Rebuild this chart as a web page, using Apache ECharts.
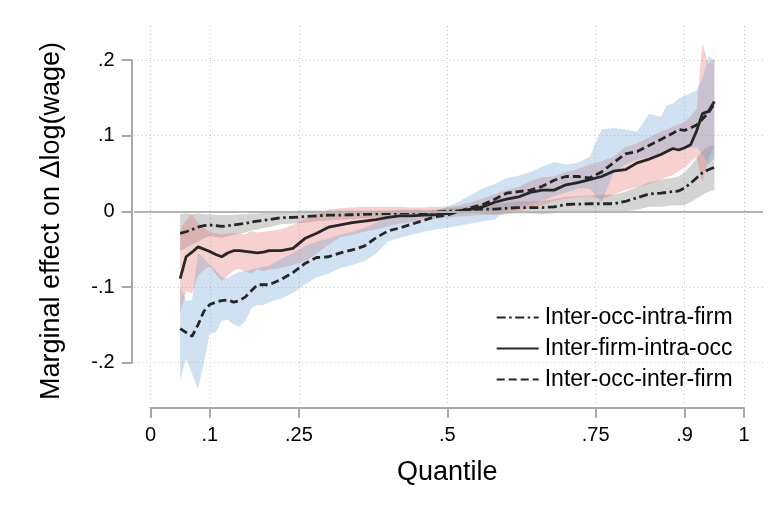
<!DOCTYPE html>
<html>
<head>
<meta charset="utf-8">
<script src="https://cdn.jsdelivr.net/npm/echarts@6/dist/echarts.min.js"></script>
<style>
  html, body { margin: 0; padding: 0; background: #fff; }
  #chart { width: 777px; height: 520px; }
</style>
</head>
<body>
<div id="chart"></div>
<script>
// ====== data ======
const quantiles = [0.05,0.06,0.07,0.08,0.09,0.10,0.11,0.12,0.13,0.14,0.15,0.16,0.17,0.18,0.19,0.20,
  0.22,0.24,0.26,0.28,0.30,0.32,0.34,0.36,0.38,0.40,0.42,0.44,0.46,0.48,0.50,0.52,0.54,0.56,0.58,
  0.60,0.62,0.64,0.66,0.68,0.70,0.72,0.74,0.76,0.78,0.80,0.82,0.84,0.86,
  0.87,0.88,0.89,0.90,0.91,0.92,0.93,0.94,0.95];

// Inter-occ-intra-firm (dash-dot, grey band)
const occIntraFirm = [-0.029,-0.027,-0.024,-0.021,-0.019,-0.018,-0.019,-0.020,-0.019,-0.018,-0.017,-0.016,-0.014,-0.013,-0.012,-0.011,
  -0.0085,-0.008,-0.007,-0.006,-0.005,-0.005,-0.0045,-0.004,-0.0035,-0.003,-0.0025,-0.002,-0.002,-0.001,0.000,0.001,0.0025,0.003,0.003,
  0.004,0.005,0.005,0.005,0.006,0.009,0.0095,0.010,0.010,0.010,0.013,0.018,0.023,0.024,
  0.025,0.026,0.027,0.031,0.037,0.044,0.051,0.055,0.058];
const occIntraFirmLo = [-0.052,-0.048,-0.044,-0.040,-0.036,-0.033,-0.034,-0.035,-0.033,-0.031,-0.030,-0.028,-0.025,-0.024,-0.022,-0.021,
  -0.017,-0.016,-0.015,-0.013,-0.012,-0.011,-0.010,-0.009,-0.008,-0.007,-0.006,-0.006,-0.005,-0.004,-0.004,-0.003,-0.002,-0.003,-0.004,
  -0.003,-0.003,-0.003,-0.004,-0.003,-0.001,-0.001,-0.001,-0.001,-0.001,0.000,0.002,0.006,0.006,
  0.007,0.008,0.008,0.008,0.012,0.017,0.022,0.026,0.028];
const occIntraFirmHi = [-0.004,-0.003,-0.004,-0.003,-0.004,-0.004,-0.005,-0.005,-0.005,-0.005,-0.004,-0.004,-0.003,-0.003,-0.002,-0.002,
  -0.001,0.000,0.001,0.001,0.001,0.001,0.001,0.001,0.001,0.001,0.002,0.002,0.002,0.002,0.004,0.005,0.007,0.009,0.010,
  0.011,0.013,0.013,0.014,0.016,0.019,0.020,0.021,0.022,0.022,0.026,0.032,0.038,0.042,
  0.043,0.044,0.046,0.052,0.060,0.070,0.080,0.085,0.088];

// Inter-firm-intra-occ (solid, red band)
const firmIntraOcc = [-0.089,-0.060,-0.054,-0.047,-0.050,-0.053,-0.057,-0.060,-0.055,-0.052,-0.052,-0.053,-0.054,-0.055,-0.054,-0.052,
  -0.052,-0.049,-0.036,-0.029,-0.021,-0.018,-0.015,-0.013,-0.011,-0.008,-0.006,-0.006,-0.005,-0.0045,-0.003,0.000,0.003,0.006,0.012,
  0.016,0.019,0.025,0.028,0.028,0.035,0.038,0.042,0.046,0.053,0.055,0.064,0.069,0.075,
  0.079,0.083,0.081,0.084,0.088,0.106,0.129,0.132,0.145];
const firmIntraOccLo = [-0.135,-0.106,-0.108,-0.085,-0.078,-0.073,-0.083,-0.092,-0.085,-0.078,-0.076,-0.080,-0.082,-0.077,-0.079,-0.077,
  -0.075,-0.071,-0.066,-0.056,-0.044,-0.034,-0.031,-0.027,-0.024,-0.020,-0.016,-0.014,-0.012,-0.010,-0.008,-0.007,-0.006,-0.005,-0.005,
  -0.004,0.000,0.004,0.008,0.014,0.017,0.019,0.020,0.016,0.022,0.028,0.032,0.036,0.042,
  0.045,0.048,0.053,0.058,0.065,0.072,0.039,0.068,0.087];
const firmIntraOccHi = [-0.025,-0.012,-0.004,-0.015,-0.022,-0.027,-0.029,-0.031,-0.029,-0.029,-0.030,-0.030,-0.026,-0.028,-0.027,-0.026,
  -0.024,-0.018,-0.010,-0.004,0.002,0.004,0.005,0.006,0.006,0.006,0.006,0.005,0.005,0.006,0.006,0.008,0.012,0.017,0.023,
  0.028,0.032,0.040,0.045,0.046,0.052,0.056,0.062,0.066,0.072,0.085,0.090,0.098,0.105,
  0.108,0.112,0.115,0.118,0.126,0.135,0.222,0.195,0.202];

// Inter-occ-inter-firm (dashed, blue band)
const occInterFirm = [-0.155,-0.160,-0.165,-0.150,-0.132,-0.123,-0.120,-0.118,-0.117,-0.120,-0.118,-0.113,-0.105,-0.097,-0.097,-0.097,
  -0.090,-0.081,-0.069,-0.061,-0.060,-0.055,-0.051,-0.046,-0.035,-0.026,-0.022,-0.017,-0.012,-0.007,-0.005,0.000,0.005,0.009,0.016,
  0.024,0.026,0.028,0.033,0.041,0.046,0.046,0.044,0.052,0.064,0.076,0.079,0.087,0.095,
  0.099,0.103,0.108,0.107,0.110,0.114,0.122,0.130,0.142];
const occInterFirmLo = [-0.223,-0.195,-0.215,-0.234,-0.200,-0.161,-0.160,-0.145,-0.143,-0.150,-0.152,-0.145,-0.128,-0.124,-0.124,-0.120,
  -0.115,-0.108,-0.097,-0.087,-0.082,-0.075,-0.071,-0.066,-0.056,-0.040,-0.035,-0.031,-0.027,-0.024,-0.022,-0.019,-0.016,-0.013,-0.011,
  0.002,0.006,0.010,0.014,0.020,0.025,0.030,0.030,0.012,0.050,0.062,0.068,0.072,0.076,
  0.078,0.080,0.081,0.083,0.084,0.085,0.075,0.062,0.070];
const occInterFirmHi = [-0.100,-0.118,-0.117,-0.055,-0.062,-0.071,-0.078,-0.087,-0.088,-0.083,-0.080,-0.079,-0.077,-0.075,-0.073,-0.072,
  -0.063,-0.055,-0.046,-0.040,-0.036,-0.031,-0.027,-0.022,-0.015,-0.008,-0.006,-0.004,-0.003,0.001,0.006,0.013,0.022,0.030,0.036,
  0.044,0.047,0.052,0.059,0.065,0.062,0.064,0.072,0.108,0.110,0.108,0.105,0.129,0.125,
  0.140,0.142,0.149,0.153,0.156,0.160,0.175,0.205,0.200];

const xTickVals = [0, 0.1, 0.25, 0.5, 0.75, 0.9, 1];
const xTickLabels = ["0", ".1", ".25", ".5", ".75", ".9", "1"];
const yTickVals = [-0.2, -0.1, 0, 0.1, 0.2];
const yTickLabels = ["-.2", "-.1", "0", ".1", ".2"];

const seriesNames = ["Inter-occ-intra-firm", "Inter-firm-intra-occ", "Inter-occ-inter-firm"];

// ====== chart ======
const FONT = "'Liberation Sans', Arial, Helvetica, sans-serif";
const AXIS_GREY = "#a8a8a8";
const GRID_DOTS = { color: "#c6c6c6", width: 1, type: [1, 3] };
const LINE_COLOR = "#262626";

const lookup = (vals, labels) => v => {
  const i = vals.findIndex(t => Math.abs(t - v) < 1e-9);
  return i < 0 ? "" : labels[i];
};

const toPairs = ys => quantiles.map((q, i) => [q, ys[i]]);

// confidence band drawn as one polygon through the axis scales
function band(lo, hi, color, extra) {
  return Object.assign({
    type: "custom",
    xAxisIndex: 0,
    yAxisIndex: 0,
    silent: true,
    z: 2,
    data: [[quantiles[0], lo[0]]],
    renderItem: (params, api) => {
      const pts = quantiles.map((q, i) => api.coord([q, hi[i]]));
      for (let i = quantiles.length - 1; i >= 0; i--) pts.push(api.coord([quantiles[i], lo[i]]));
      return { type: "polygon", shape: { points: pts }, style: { fill: color } };
    }
  }, extra || {});
}

function line(name, ys, dash) {
  return {
    type: "line",
    name: name,
    xAxisIndex: 0,
    yAxisIndex: 0,
    z: 4,
    data: toPairs(ys),
    symbol: "none",
    showSymbol: false,
    lineStyle: { color: LINE_COLOR, width: 2.8, type: dash, cap: "butt" },
    itemStyle: { color: LINE_COLOR }
  };
}

const chart = echarts.init(document.getElementById("chart"));

chart.setOption({
  animation: false,
  backgroundColor: "#ffffff",
  textStyle: { fontFamily: FONT, color: "#000" },
  grid: [
    { left: 134, top: 26, width: 629, height: 377 },          // plot region
    { left: 150.5, top: 300, width: 593.5, height: 107.7 },   // x axis line 0..1
    { left: 131.7, top: 60, width: 20, height: 302.7 }        // y axis line -.2...2
  ],
  xAxis: [
    {
      gridIndex: 0, type: "value", min: -0.0278, max: 1.032,
      axisLine: { show: false }, axisLabel: { show: false },
      axisTick: { show: false, customValues: xTickVals },
      splitLine: { show: true, lineStyle: GRID_DOTS }
    },
    {
      gridIndex: 1, type: "value", min: 0, max: 1, position: "bottom",
      axisLine: { show: true, onZero: false, lineStyle: { color: AXIS_GREY, width: 2 } },
      axisTick: { show: true, length: 10, customValues: xTickVals, lineStyle: { color: AXIS_GREY, width: 2 } },
      axisLabel: { customValues: xTickVals, formatter: lookup(xTickVals, xTickLabels), margin: 18,
        fontSize: 20, color: "#000", fontFamily: FONT },
      splitLine: { show: false },
      name: "Quantile", nameLocation: "middle", nameGap: 51,
      nameTextStyle: { fontSize: 27, color: "#000", fontFamily: FONT }
    },
    { gridIndex: 2, type: "value", show: false }
  ],
  yAxis: [
    {
      gridIndex: 0, type: "value", min: -0.2532, max: 0.2448,
      axisLine: { show: false }, axisLabel: { show: false },
      axisTick: { show: false, customValues: yTickVals },
      splitLine: { show: true, lineStyle: GRID_DOTS }
    },
    { gridIndex: 1, type: "value", show: false },
    {
      gridIndex: 2, type: "value", min: -0.2, max: 0.2, position: "left",
      axisLine: { show: true, onZero: false, lineStyle: { color: AXIS_GREY, width: 2 } },
      axisTick: { show: true, length: 10, customValues: yTickVals, lineStyle: { color: AXIS_GREY, width: 2 } },
      axisLabel: { customValues: yTickVals, formatter: lookup(yTickVals, yTickLabels), margin: 17,
        fontSize: 20, color: "#000", fontFamily: FONT },
      splitLine: { show: false }
    }
  ],
  graphic: [{
    type: "text",
    x: 52, y: 221,
    rotation: Math.PI / 2,
    style: {
      text: "Marginal effect on \u0394log(wage)",
      font: "27px " + FONT,
      fill: "#000",
      textAlign: "center",
      textVerticalAlign: "middle"
    }
  }],
  legend: {
    data: seriesNames,
    orient: "vertical",
    left: 490.7,
    top: 301,
    itemWidth: 42,
    itemHeight: 14,
    itemGap: 8,
    itemStyle: { color: "transparent", borderColor: "transparent", borderWidth: 0 },
    textStyle: { fontSize: 23, color: "#000", fontFamily: FONT, padding: [0, 0, 0, 1] }
  },
  series: [
    band(occIntraFirmLo, occIntraFirmHi, "rgba(128,128,128,0.34)", {
      markLine: {
        silent: true, symbol: "none", label: { show: false },
        lineStyle: { color: "#b4b4b4", width: 2, type: "solid" },
        data: [{ yAxis: 0 }]
      }
    }),
    band(firmIntraOccLo, firmIntraOccHi, "rgba(228,100,100,0.30)"),
    band(occInterFirmLo, occInterFirmHi, "rgba(100,160,210,0.30)"),
    line(seriesNames[0], occIntraFirm, [9, 3.5, 2.5, 3.5]),
    line(seriesNames[1], firmIntraOcc, "solid"),
    line(seriesNames[2], occInterFirm, [8, 4])
  ]
});

window.addEventListener("resize", () => chart.resize());
</script>
</body>
</html>
